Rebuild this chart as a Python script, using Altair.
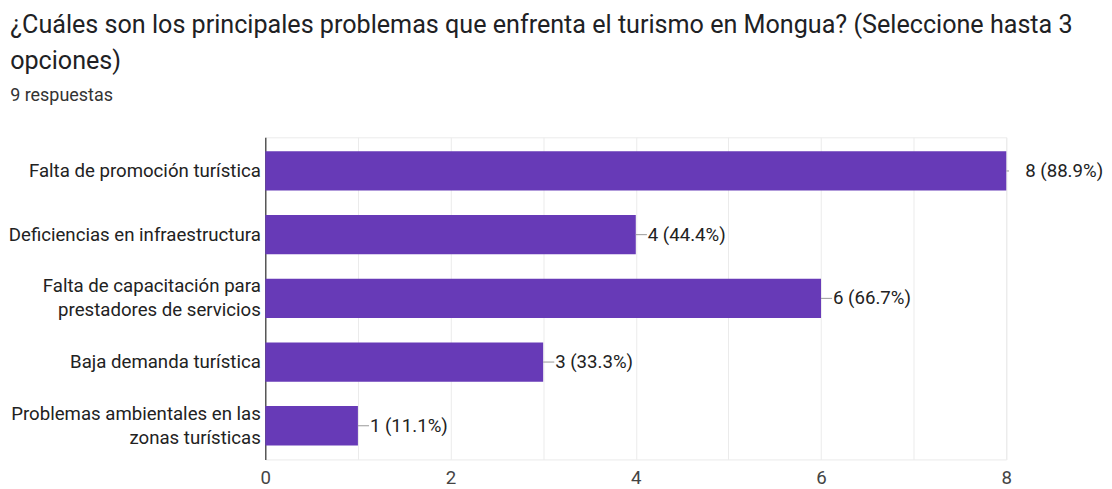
import altair as alt
import pandas as pd

categories = [
    "Falta de promoción turística",
    "Deficiencias en infraestructura",
    "Falta de capacitación para\nprestadores de servicios",
    "Baja demanda turística",
    "Problemas ambientales en las\nzonas turísticas",
]
values = [8, 4, 6, 3, 1]
total = 9
labels = [f"{v} ({v / total * 100:.1f}%)" for v in values]
x_ticks = [0, 1, 2, 3, 4, 5, 6, 7, 8]

df = pd.DataFrame({"cat": categories, "value": values, "label": labels})
vmax = max(values)

FONT = "Roboto"
PURPLE = "#673AB7"
FS = 18.7

y_enc = alt.Y(
    "cat:N",
    sort=None,
    title=None,
    scale=alt.Scale(paddingInner=0.383, paddingOuter=0.22),
    axis=alt.Axis(
        labelExpr="split(datum.label, '\\n')",
        labelFontSize=FS,
        labelColor="#222222",
        labelFont=FONT,
        labelLineHeight=24,
        labelPadding=5,
        labelOffset={"condition": {"test": "indexof(datum.label, '\\n') >= 0", "value": -12}, "value": 0},
        ticks=False,
        domain=True,
        domainColor="#333333",
        domainWidth=1.2,
        grid=False,
        labelLimit=400,
    ),
)

x_scale = alt.Scale(domain=[0, 8], nice=False)

bars = alt.Chart(df).mark_bar(color=PURPLE).encode(
    x=alt.X(
        "value:Q",
        scale=x_scale,
        title=None,
        axis=alt.Axis(
            values=x_ticks,
            format="d",
            labelExpr="datum.value % 2 == 0 ? datum.label : ''",
            labelFontSize=FS,
            labelColor="#444444",
            labelFont=FONT,
            labelPadding=9,
            ticks=False,
            domain=False,
            grid=True,
            gridColor="#ebebeb",
            labelFlush=False,
        ),
    ),
    y=y_enc,
)

rules = (
    alt.Chart(df)
    .transform_calculate(x2="datum.value + (datum.value == %d ? 0.03 : 0.12)" % vmax)
    .mark_rule(color="#999999", strokeWidth=1)
    .encode(x=alt.X("value:Q", scale=x_scale), x2="x2:Q", y=alt.Y("cat:N", sort=None))
)

text_normal = (
    alt.Chart(df)
    .transform_filter("datum.value != %d" % vmax)
    .mark_text(align="left", baseline="middle", dx=12, fontSize=FS, font=FONT, color="#222222")
    .encode(x=alt.X("value:Q", scale=x_scale), y=alt.Y("cat:N", sort=None), text="label:N")
)

text_max = (
    alt.Chart(df)
    .transform_filter("datum.value == %d" % vmax)
    .mark_text(align="left", baseline="middle", dx=19, fontSize=FS, font=FONT, color="#222222")
    .encode(x=alt.X("value:Q", scale=x_scale), y=alt.Y("cat:N", sort=None), text="label:N")
)

chart = (
    alt.layer(bars, rules, text_normal, text_max)
    .properties(
        width=743,
        height=323,
        padding={"left": 0, "top": 4, "right": 0, "bottom": 0},
        title=alt.TitleParams(
            text=[
                "¿Cuáles son los principales problemas que enfrenta el turismo en Mongua? (Seleccione hasta 3",
                "opciones)",
            ],
            subtitle="9 respuestas",
            anchor="start",
            frame="bounds",
            font=FONT,
            fontSize=25.2,
            fontWeight="normal",
            color="#202124",
            lineHeight=36,
            subtitleFont=FONT,
            subtitleFontSize=18,
            subtitleColor="#333333",
            subtitlePadding=13,
            offset=32,
            dx=2,
        ),
    )
    .configure_view(stroke="#ebebeb")
)

chart.save("out.html", embed_options={"renderer": "svg", "actions": False})
